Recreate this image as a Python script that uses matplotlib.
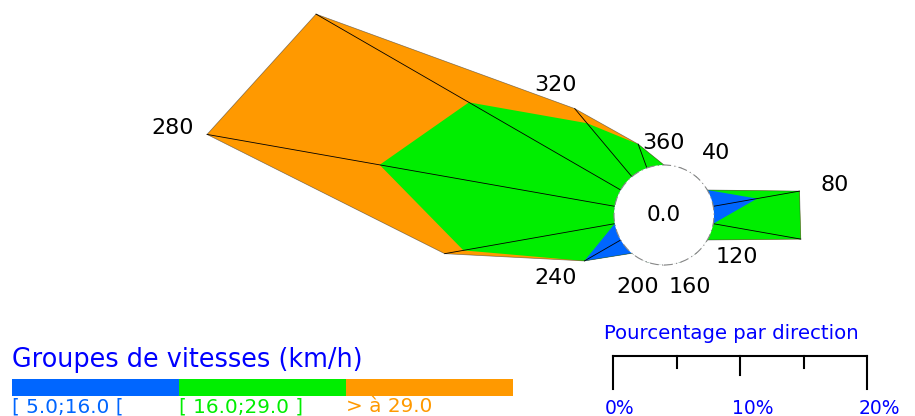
import numpy as np
import matplotlib.pyplot as plt
from matplotlib.patches import Circle, Rectangle

plt.rcParams['font.family'] = 'DejaVu Sans'

# wind directions (deg) and % per speed class
directions = [0, 20, 40, 60, 80, 100, 120, 140, 160, 180, 200, 220, 240, 260, 280, 300, 320, 340]
blue = [0, 0, 0, 0, 3.5, 0, 0, 0, 0, 0, 0, 0, 3.3, 0, 0, 0, 0, 0]
green = [0, 0, 0, 0, 3.4, 7.0, 0, 0, 0, 0, 0, 0, 0, 12.1, 18.8, 13.8, 5.5, 2.0]
orange = [0, 0, 0, 0, 0, 0, 0, 0, 0, 0, 0, 0, 0, 1.5, 13.8, 13.9, 1.5, 0]
calm = 0.0

classes = ['[ 5.0;16.0 [', '[ 16.0;29.0 ]', '> à 29.0']
colors = ['#0066ff', '#00ee00', '#ff9900']
label_dirs = [0, 40, 80, 120, 160, 200, 240, 280, 320]

R0 = 50 / 12.7  # radius of the calm circle, in % units
px = 12.7       # pixels per percent

fig = plt.figure(figsize=(9.15, 4.16), dpi=100)
ax = fig.add_axes([0, 0, 1, 1])
ax.set_xlim(-664 / px, 251 / px)
ax.set_ylim(-201 / px, 215 / px)
ax.axis('off')

theta = np.radians(directions)
cum = np.cumsum([blue, green, orange], axis=0)

# draw outermost class first, then inner ones on top
for k in [2, 1, 0]:
    r = R0 + cum[k]
    ax.fill(r * np.sin(theta), r * np.cos(theta), color=colors[k], lw=0, zorder=2)

total = cum[2]
r_out = R0 + total
ax.plot(np.append(r_out * np.sin(theta), r_out[0] * np.sin(theta[0])),
        np.append(r_out * np.cos(theta), r_out[0] * np.cos(theta[0])),
        color='#333333', lw=0.5, alpha=0.6, zorder=3)
for t, tot in zip(theta, total):
    if tot > 0:
        ax.plot([R0 * np.sin(t), (R0 + tot) * np.sin(t)],
                [R0 * np.cos(t), (R0 + tot) * np.cos(t)],
                color='black', lw=0.6, zorder=3)

ax.add_patch(Circle((0, 0), R0, facecolor='white', edgecolor='#888888',
                    lw=0.8, ls=(0, (8, 3, 1, 3)), zorder=4))
ax.text(0, 0, f'{calm:.1f}', ha='center', va='center', fontsize=15.5, zorder=5)

for d in label_dirs:
    t = np.radians(d)
    i = directions.index(d)
    rr = R0 + total[i] + 1.7 + 1.1 * abs(np.sin(t))
    ax.text(rr * np.sin(t), rr * np.cos(t), str(360 if d == 0 else d),
            ha='center', va='center', fontsize=16, zorder=5)

# scale bar
sx, sy = -4.0, -11.1
ax.plot([sx, sx + 20], [sy, sy], color='black', lw=1.5)
for v, ln in [(0, 2.6), (5, 0.95), (10, 1.5), (15, 0.95), (20, 2.6)]:
    ax.plot([sx + v, sx + v], [sy, sy - ln], color='black', lw=1.5)
for v in [0, 10, 20]:
    ax.text(sx + v - 0.65, -15.2, f'{v}%', ha='left', va='center',
            fontsize=13.5, color='blue')
fig.text(604 / 915, (416 - 339) / 416, 'Pourcentage par direction',
         ha='left', va='baseline', fontsize=14.2, color='blue')

# speed classes legend
fig.text(12 / 915, (416 - 367) / 416, 'Groupes de vitesses (km/h)',
         ha='left', va='baseline', fontsize=18.4, color='blue')
for k in range(3):
    x0 = (12 + 167 * k) / 915
    fig.patches.append(Rectangle((x0, 20 / 416), 167 / 915, 17 / 416,
                                 transform=fig.transFigure, color=colors[k], lw=0))
    fig.text(x0, 3.5 / 416, classes[k], ha='left', va='baseline',
             fontsize=14.4, color=colors[k])

fig.savefig('out.png', dpi=100)
